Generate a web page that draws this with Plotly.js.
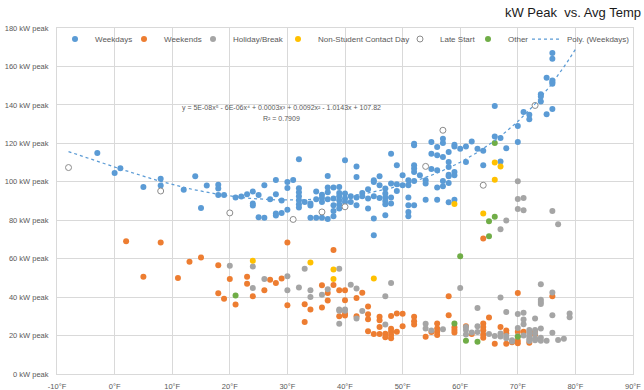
<!DOCTYPE html>
<html>
<head>
<meta charset="utf-8">
<script src="https://cdn.plot.ly/plotly-3.0.1.min.js"></script>
<style>html,body{margin:0;padding:0;background:#fff;}#chart{width:644px;height:390px;}</style>
</head>
<body>
<div id="chart"></div>
<script>
// ---------- DATA ----------
var seriesNames = ["Weekdays", "Weekends", "Holiday/Break", "Non-Student Contact Day", "Late Start", "Other", "Poly. (Weekdays)"];
var xTickVals = [-10, 0, 10, 20, 30, 40, 50, 60, 70, 80, 90];
var xTickText = ["-10\u00b0F", "0\u00b0F", "10\u00b0F", "20\u00b0F", "30\u00b0F", "40\u00b0F", "50\u00b0F", "60\u00b0F", "70\u00b0F", "80\u00b0F", "90\u00b0F"];
var yTickVals = [0, 20, 40, 60, 80, 100, 120, 140, 160, 180];
var yTickText = ["0 kW peak", "20 kW peak", "40 kW peak", "60 kW peak", "80 kW peak", "100 kW peak", "120 kW peak", "140 kW peak", "160 kW peak", "180 kW peak"];

var wdTemp = [
 -3, 0, 1, 5, 8, 8, 12, 14, 15, 16,
 18, 18, 18, 19, 21, 22, 23,
 24, 24, 24, 25, 25, 26, 26, 27,
 28, 28, 28, 28, 29, 29, 30, 30, 30, 31,
 32, 32, 32, 32, 32, 32, 32, 33,
 34, 34, 34, 35, 35, 35, 36, 36, 36, 36,
 37, 37, 37, 37, 37, 38, 38, 38, 38, 38,
 39, 39, 39, 39, 39, 39, 40, 40, 40, 40, 41, 41,
 42, 42, 42, 42, 43, 43, 44, 44, 44,
 45, 45, 45, 45, 45, 46, 46, 46,
 47, 47, 47, 47, 47, 47, 48, 48, 48, 48, 49, 49, 49, 50, 50,
 51, 51, 51, 51, 51, 51, 52, 52, 52, 52, 52, 52, 52, 53,
 54, 54, 54, 55, 55, 55, 56, 56, 56, 56, 56,
 57, 57, 57, 57, 57, 58, 58, 58, 58, 58, 58, 58,
 59, 59, 59, 59, 59, 60, 61, 61, 62, 63, 64, 64,
 66, 66, 67, 67, 68, 70, 70, 71, 72, 72,
 74, 74, 74, 75, 75, 76, 76, 76, 76, 76, 76
];
var wdKw = [
 115, 104.6, 107, 97.3, 101.6, 98, 95.8, 102.9, 86.4, 98,
 98.5, 96.5, 93.1, 93.1, 91.8, 92.3, 93.5,
 94.9, 88.7, 87.6, 93.1, 81.6, 98.2, 81.3, 90.9,
 100.9, 93.5, 83.5, 82.4, 90.2, 83.8, 99.9, 96.8, 85.5, 100.9,
 111.7, 96.6, 94.5, 92.5, 90.4, 88.3, 86.6, 89.5,
 88.7, 87.6, 81.3, 94.9, 90.9, 81.3, 93.3, 91.6, 89.5, 81.3,
 103, 97, 94.5, 90.9, 80.6, 97, 91.3, 87.8, 84.8, 82.1,
 97.3, 94.2, 92.5, 90.4, 88.2, 86.1, 111.2, 93.9, 91.3, 89.5, 92.5, 89.5,
 108, 102.5, 91.8, 87.8, 94.2, 92.5, 96.1, 91.3, 86.1,
 100.8, 99.9, 92.5, 80.9, 72.2, 102.9, 98.2, 91.6,
 96.5, 93.9, 91.8, 90, 88.3, 82.6, 114.6, 99.1, 91.8, 88.7, 108.6, 98.7, 95.2, 103.4, 98.2,
 100.8, 98.2, 91.8, 87.8, 84.3, 82.1, 119.8, 119, 108.6, 106.9, 105.1, 100.4, 87.8, 103.4,
 100.8, 99.1, 90.7, 120.7, 114.6, 106.6, 118.1, 113.8, 106, 97, 90.7,
 122.4, 120.2, 112.9, 100.4, 97.7, 115.5, 110.3, 107.7, 103.7, 102.9, 99.3, 89.3,
 119.3, 118.4, 105.1, 103.4, 90.7, 117.2, 118.4, 110.3, 121, 117.2, 116.2, 108.6,
 139.4, 123.6, 122.8, 110.6, 117.4, 129, 120.7, 136.3, 134.9, 132.5,
 145.5, 144.4, 141.8, 154.1, 135.1, 167, 164, 152.7, 151.8, 151, 137.8
];

var weTemp = [
 2, 5, 8, 11, 13, 15, 18, 18, 19, 20, 21, 23, 23, 24, 26, 27, 28, 29,
 30, 30, 33, 33, 34, 36, 36, 37, 37, 38, 38, 39, 39,
 40, 40, 40, 40, 42, 42, 43, 44, 44, 44, 44, 45,
 46, 46, 46, 46, 47, 47, 48, 48, 48, 48, 48, 49, 49, 50, 50,
 52, 52, 52, 54, 55, 56, 56, 56, 56, 58, 58, 59, 59, 59, 61, 62,
 64, 64, 64, 64, 64, 64, 65, 66, 67, 68, 68, 68, 69,
 70, 70, 70, 70, 71, 72, 73, 73, 76
];
var weKw = [
 69.1, 50.6, 68.4, 49.9, 58.4, 60.6, 56.6, 42, 39.1, 49.4, 36.2, 50.6, 46.9, 40.4, 43.6, 49, 47.3, 49.7,
 68.4, 35.8, 36.3, 27, 33.6, 46.2, 34.6, 42.1, 38.3, 64.5, 46.3, 43.6, 30.1,
 43.6, 38.4, 31.4, 30.4, 39.5, 30, 42.3, 35.1, 31.1, 28.5, 22.3, 20.8,
 29.8, 28, 24.5, 20.8, 21, 19.1, 30.2, 23.6, 22, 20.3, 18.6, 31.5, 22, 31.4, 24.8,
 29.8, 27.5, 25.8, 19.4, 21.8, 26.3, 23.7, 22, 20.3, 40.5, 30.6, 24.3, 22.9, 21.6, 24.9, 20.8,
 70.5, 26.3, 24.5, 22.7, 20.6, 18.8, 29.4, 15.8, 24.4, 22.6, 21.1, 15.7, 16.5,
 42.2, 22, 17.3, 16, 22, 16.3, 22, 20.5, 40.4
];

var hbTemp = [
 20, 24, 24, 26, 30, 30, 32, 33, 34, 34, 36, 37,
 39, 39, 39, 39, 40, 40, 41, 42, 42, 43, 47, 47, 48,
 54, 54, 55, 57, 60, 61, 61, 61, 62, 63, 63, 63, 65, 66,
 67, 67, 67, 67, 68, 68, 68, 68, 69, 69,
 70, 70, 70, 70, 70, 70, 71, 71, 71, 71, 71, 71,
 72, 72, 72, 72, 72, 73, 73, 73, 73, 73,
 74, 74, 74, 74, 74, 74, 74, 75, 76, 76, 76, 76, 77, 77, 78, 79, 79
];
var hbKw = [
 56.3, 55.9, 44.7, 49.4, 50.9, 43.6, 45, 54.8, 43.6, 40.1, 41.2, 44.1,
 54.8, 33.6, 32.9, 26.1, 33.6, 32.9, 46.4, 44.5, 28.9, 32.8, 40.5, 25.8, 47.3,
 26.2, 23.7, 22.6, 23.3, 44.8, 24.4, 22.9, 20.5, 21.6, 34.4, 24.8, 21.8, 20.8, 19.8,
 75.3, 39.8, 21.1, 19.5, 79.8, 32.3, 19.8, 18.6, 17.6, 16.9,
 100.3, 91, 85.9, 31.2, 23.9, 19.6, 91.6, 85.2, 31.9, 28.4, 25.9, 20,
 22.9, 21.3, 19.6, 18.2, 17.2, 28.9, 22.9, 21.1, 18.6, 17.5,
 46.7, 38.6, 37.4, 36.4, 23.7, 18.9, 17.3, 17.3, 84.8, 42.4, 30.5, 21.5, 77.9, 17.7, 18.3, 31.5, 29.5
];

var nsTemp = [24, 34, 38, 38, 45, 59, 64, 66, 66, 67];
var nsKw   = [58.9, 58, 54.4, 49.4, 49.7, 88.5, 83.5, 110, 101.1, 108];

var lsTemp = [-8, 8, 20, 31, 36, 40, 54, 57, 64, 73];
var lsKw   = [107.4, 95.2, 83.8, 80.4, 84.3, 87, 108, 126.8, 98.2, 139.7];

var otTemp = [21, 59, 60, 61, 63, 65, 65, 66, 66, 70];
var otKw   = [40.9, 26.3, 61.3, 17.3, 16.8, 71.7, 79.5, 81.8, 120.2, 19.4];

var trendRange = [-8, 80];
var trendLabel = "y = 5E-08x\u2075 - 6E-06x\u2074 + 0.0003x\u00b3 + 0.0092x\u00b2 - 1.0143x + 107.82";
var r2Label = "R\u00b2 = 0.7909";

// ---------- polynomial trendline (least squares, degree 5) fitted to the weekday points ----------
function polyfit(xs, ys, deg) {
  var s = 50, n = deg + 1, A = [], i, j, k;
  for (i = 0; i < n; i++) { A.push(new Array(n + 1).fill(0)); }
  for (k = 0; k < xs.length; k++) {
    var x = xs[k] / s, p = [1];
    for (i = 1; i < 2 * n; i++) p.push(p[i - 1] * x);
    for (i = 0; i < n; i++) {
      for (j = 0; j < n; j++) A[i][j] += p[i + j];
      A[i][n] += p[i] * ys[k];
    }
  }
  for (i = 0; i < n; i++) {
    var piv = i;
    for (k = i + 1; k < n; k++) if (Math.abs(A[k][i]) > Math.abs(A[piv][i])) piv = k;
    var t = A[i]; A[i] = A[piv]; A[piv] = t;
    for (k = i + 1; k < n; k++) {
      var f = A[k][i] / A[i][i];
      for (j = i; j <= n; j++) A[k][j] -= f * A[i][j];
    }
  }
  var c = new Array(n).fill(0);
  for (i = n - 1; i >= 0; i--) {
    var sum = A[i][n];
    for (j = i + 1; j < n; j++) sum -= A[i][j] * c[j];
    c[i] = sum / A[i][i];
  }
  return function (xv) { var xx = xv / s, r = 0, pw = 1; for (var q = 0; q < n; q++) { r += c[q] * pw; pw *= xx; } return r; };
}
var fitFn = polyfit(wdTemp, wdKw, 5);
var trendX = [], trendY = [];
for (var tx = trendRange[0]; tx <= trendRange[1] + 1e-9; tx += 0.5) { trendX.push(tx); trendY.push(fitFn(tx)); }

// ---------- chart ----------
var FONT = "Liberation Sans, Arial, sans-serif";
var TXT = "#595959";
var L = 57, R = 11, T = 28, B = 16, W = 644, H = 390;
var pw = W - L - R, ph = H - T - B;
function px2paperX(px) { return (px - L) / pw; }
function px2paperY(py) { return (H - B - py) / ph; }

function mk(color, line) {
  return { size: 6, color: color, line: line || { width: 0 } };
}
var traces = [
  { x: wdTemp, y: wdKw, name: seriesNames[0], mode: "markers", type: "scatter", marker: mk("#5B9BD5"), legend: "legend" },
  { x: weTemp, y: weKw, name: seriesNames[1], mode: "markers", type: "scatter", marker: mk("#ED7D31"), legend: "legend2" },
  { x: hbTemp, y: hbKw, name: seriesNames[2], mode: "markers", type: "scatter", marker: mk("#A5A5A5"), legend: "legend3" },
  { x: nsTemp, y: nsKw, name: seriesNames[3], mode: "markers", type: "scatter", marker: mk("#FFC000"), legend: "legend4" },
  { x: lsTemp, y: lsKw, name: seriesNames[4], mode: "markers", type: "scatter", marker: { size: 6, color: "#ffffff", line: { width: 1, color: "#8c8c8c" } }, legend: "legend5" },
  { x: otTemp, y: otKw, name: seriesNames[5], mode: "markers", type: "scatter", marker: mk("#70AD47"), legend: "legend6" },
  { x: trendX, y: trendY, name: seriesNames[6], mode: "lines", type: "scatter", line: { color: "#5B9BD5", width: 1.25, dash: "dot" }, legend: "legend7" }
];

var legendOrigins = [55, 124, 193, 278, 400, 468, 527];
var legendY = px2paperY(39);
var layout = {
  width: W, height: H,
  margin: { l: L, r: R, t: T, b: B, autoexpand: false },
  paper_bgcolor: "#ffffff", plot_bgcolor: "#ffffff",
  font: { family: FONT, color: TXT, size: 8 },
  title: { text: "kW Peak  vs. Avg Temp", x: 641 / W, xref: "container", xanchor: "right", y: 1 - 12 / H, yref: "container", yanchor: "middle",
           font: { family: FONT, size: 13, color: "#1a1a1a" } },
  xaxis: { range: [-10, 90], tickmode: "array", tickvals: xTickVals, ticktext: xTickText, showgrid: true, gridcolor: "#d9d9d9", gridwidth: 1,
           zeroline: false, showline: true, linecolor: "#d9d9d9", linewidth: 1, mirror: true, ticks: "",
           tickfont: { family: FONT, size: 7.5, color: TXT }, ticklabelstandoff: 5, fixedrange: true },
  yaxis: { range: [0, 180], tickmode: "array", tickvals: yTickVals, ticktext: yTickText, showgrid: true, gridcolor: "#d9d9d9", gridwidth: 1,
           zeroline: false, showline: true, linecolor: "#d9d9d9", linewidth: 1, mirror: true, ticks: "",
           tickfont: { family: FONT, size: 7.5, color: TXT }, ticklabelstandoff: 6, fixedrange: true },
  shapes: [
    { type: "rect", xref: "x domain", yref: "y domain", layer: "below",
      x0: px2paperX(62), x1: 0.999, y0: px2paperY(47), y1: px2paperY(29),
      fillcolor: "#ffffff", line: { width: 0 } }
  ],
  annotations: [
    { xref: "paper", yref: "paper", x: px2paperX(281), y: px2paperY(107.7), text: trendLabel, showarrow: false,
      xanchor: "center", yanchor: "middle", font: { family: FONT, size: 7, color: TXT } },
    { xref: "paper", yref: "paper", x: px2paperX(281), y: px2paperY(118.3), text: r2Label, showarrow: false,
      xanchor: "center", yanchor: "middle", font: { family: FONT, size: 7, color: TXT } }
  ],
  showlegend: true
};
var legendKeys = ["legend", "legend2", "legend3", "legend4", "legend5", "legend6", "legend7"];
legendKeys.forEach(function (k, i) {
  layout[k] = { x: px2paperX(legendOrigins[i]), xanchor: "left", y: legendY, yanchor: "middle", orientation: "h",
                bgcolor: "rgba(0,0,0,0)", borderwidth: 0, font: { family: FONT, size: 8, color: TXT } };
});

Plotly.newPlot("chart", traces, layout, { staticPlot: true, displayModeBar: false });
</script>
</body>
</html>
